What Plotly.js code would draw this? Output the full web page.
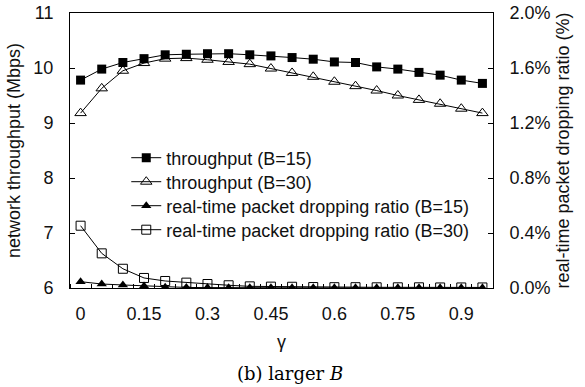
<!DOCTYPE html>
<html>
<head>
<meta charset="utf-8">
<script src="https://cdn.plot.ly/plotly-3.0.1.min.js"></script>
<style>html,body{margin:0;padding:0;background:#fff;}#chart{width:585px;height:387px;}</style>
</head>
<body>
<div id="chart"></div>
<script>
const gamma = [0,0.05,0.1,0.15,0.2,0.25,0.3,0.35,0.4,0.45,0.5,0.55,0.6,0.65,0.7,0.75,0.8,0.85,0.9,0.95];
const throughputB15 = [9.78,9.98,10.10,10.17,10.24,10.25,10.26,10.26,10.24,10.22,10.19,10.16,10.11,10.10,10.02,9.98,9.92,9.87,9.78,9.72];
const throughputB30 = [9.18,9.63,9.95,10.09,10.17,10.18,10.15,10.11,10.07,9.99,9.91,9.84,9.75,9.67,9.59,9.50,9.42,9.35,9.26,9.18];
const dropB15 = [0.00046,0.00029,0.00022,0.00015,0.00006,0.00004,0.00003,0.00002,0.00002,0.00002,0.00001,0.00001,0.00001,0.00001,0.00001,0.00001,0.00001,0.00001,0.00001,0.00001];
const dropB30 = [0.00453,0.00252,0.00140,0.00073,0.00051,0.00039,0.00029,0.00020,0.00012,0.00010,0.00009,0.00007,0.00006,0.00006,0.00005,0.00005,0.00005,0.00004,0.00004,0.00004];
const tickLabels = ['0','0.15','0.3','0.45','0.6','0.75','0.9'];
const tickVals = [0,0.15,0.3,0.45,0.6,0.75,0.9];

const F = 'Liberation Sans, Arial, sans-serif';
const FS = 18;
const ln = {color:'#000', width:1};
const traces = [
  {x:gamma, y:throughputB15, name:'throughput (B=15)', mode:'lines+markers', line:ln, legend:'legend',
   marker:{symbol:'square', size:9, color:'#000'}},
  {x:gamma, y:throughputB30, name:'throughput (B=30)', mode:'lines+markers', line:ln, legend:'legend2',
   marker:{symbol:'triangle-up-open', size:10, color:'#000', line:{width:1}}},
  {x:gamma, y:dropB15, name:'real-time packet dropping ratio (B=15)', mode:'lines+markers', line:ln, yaxis:'y2', legend:'legend3',
   marker:{symbol:'triangle-up', size:9, color:'#000'}},
  {x:gamma, y:dropB30, name:'real-time packet dropping ratio (B=30)', mode:'lines+markers', line:ln, yaxis:'y2', legend:'legend4',
   marker:{symbol:'square-open', size:9, color:'#000', line:{width:1}}}
];
function leg(cy){
  return {x:0.133, y:(288-cy)/275, xanchor:'left', yanchor:'middle', bgcolor:'rgba(0,0,0,0)',
          font:{family:F, size:FS, color:'#111'}};
}
const layout = {
  width:585, height:387,
  margin:{l:70, r:92, t:13, b:99},
  paper_bgcolor:'#fff', plot_bgcolor:'#fff',
  font:{family:F, size:FS, color:'#111'},
  showlegend:true,
  legend:leg(158), legend2:leg(182), legend3:leg(206), legend4:leg(230),
  xaxis:{range:[-0.025,0.975], tickvals:tickVals, ticktext:tickLabels, ticks:'',
         showgrid:false, zeroline:false, showline:true, linecolor:'#000', linewidth:1, mirror:true,
         ticklabelstandoff:9,
         minor:{tick0:0.025, dtick:0.05, ticks:'inside', ticklen:4, tickcolor:'#000', showgrid:false},
         title:{text:'γ', font:{family:F, size:FS}, standoff:12}},
  yaxis:{range:[6,11], dtick:1, ticks:'inside', ticklen:5, tickcolor:'#000', showgrid:false, zeroline:false,
         showline:true, linecolor:'#000', linewidth:1, ticklabelstandoff:12,
         title:{text:'network throughput (Mbps)', font:{family:F, size:FS}, standoff:8}},
  yaxis2:{range:[0,0.02], dtick:0.004, tickformat:'.1%', overlaying:'y', side:'right',
          ticks:'inside', ticklen:5, tickcolor:'#000', showgrid:false, zeroline:false,
          showline:true, linecolor:'#000', linewidth:1, ticklabelstandoff:12,
          title:{text:'real-time packet dropping ratio (%)', font:{family:F, size:FS}, standoff:6}},
  annotations:[{xref:'paper', yref:'paper', x:0.52, y:-0.31, xanchor:'center', yanchor:'middle', showarrow:false,
    text:'(b) larger <i>B</i>', font:{family:'DejaVu Serif, Liberation Serif, serif', size:18, color:'#000'}}]
};
Plotly.newPlot('chart', traces, layout, {displayModeBar:false, staticPlot:true});
</script>
</body>
</html>
